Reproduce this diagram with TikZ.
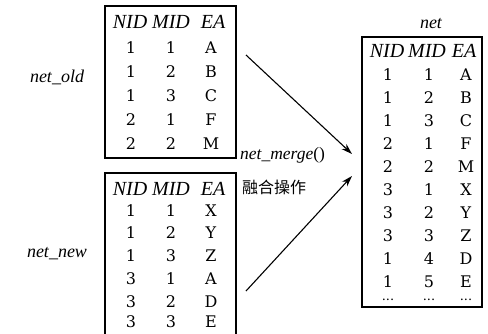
\documentclass[tikz,border=0pt]{standalone}
\usepackage{fontspec}
\setmainfont{Liberation Serif}
\newfontfamily\cellfont{DejaVu Serif}
\newfontfamily\cjk{Noto Sans CJK SC}
\usetikzlibrary{arrows.meta}
\begin{document}
\begin{tikzpicture}[x=1pt,y=-1pt,
  cell/.style={font=\cellfont\fontsize{16}{18}\selectfont, inner sep=0pt, anchor=center},
  dots/.style={font=\cellfont\fontsize{13}{14}\selectfont, inner sep=0pt, anchor=center},
  hd/.style={font=\fontsize{20}{22}\selectfont\itshape, inner sep=0pt, anchor=center},
  lbl/.style={font=\fontsize{18}{20}\selectfont\itshape, inner sep=0pt, anchor=center},
  frame/.style={line width=1.4pt},
  arr/.style={line width=1.1pt, -{Stealth[length=11pt,width=7pt]}}]
\useasboundingbox (0,0) rectangle (488,333);
% boxes
\draw[frame] (105,6) rectangle (236,158);
\draw[frame] (105,340) -- (105,173) -- (236,173) -- (236,340);
\draw[frame] (362,37) rectangle (482,307);
% labels
\node[lbl] (old) at (57,77) {net\_old};
\node[lbl] (new) at (57,254) {net\_new};
\node[lbl] (netlbl) at (431,24) {net};
\node[lbl, anchor=west, font=\fontsize{17.5}{20}\selectfont\itshape] (merge) at (240,155) {net\_merge\upshape()};
\node[font=\cjk\fontsize{16}{18}\selectfont, inner sep=0pt, anchor=west] (op) at (242,187) {融合操作};
% table 1
\foreach \h/\x in {NID/130,MID/171,EA/213} \node[hd] at (\x,22) {\h};
\foreach \a/\b/\c [count=\i] in {1/1/A,1/2/B,1/3/C,2/1/F,2/2/M}{
  \node[cell] at (131,24+24*\i) {\a};
  \node[cell] at (171,24+24*\i) {\b};
  \node[cell] at (211,24+24*\i) {\c};}
% table 2
\foreach \h/\x in {NID/130,MID/171,EA/213} \node[hd] at (\x,189) {\h};
\foreach \a/\b/\c/\y in {1/1/X/211,1/2/Y/233,1/3/Z/256,3/1/A/279,3/2/D/302,3/3/E/322}{
  \node[cell] at (131,\y) {\a};
  \node[cell] at (171,\y) {\b};
  \node[cell] at (211,\y) {\c};}
% table 3
\foreach \h/\x in {NID/387,MID/427,EA/464} \node[hd] at (\x,51) {\h};
\foreach \a/\b/\c [count=\i] in {1/1/A,1/2/B,1/3/C,2/1/F,2/2/M,3/1/X,3/2/Y,3/3/Z,1/4/D,1/5/E}{
  \node[cell] at (388,52+23*\i) {\a};
  \node[cell] at (429,52+23*\i) {\b};
  \node[cell] at (466,52+23*\i) {\c};}
\foreach \x in {388,429,466} \node[dots] at (\x,300) {...};
% arrows
\coordinate (s1) at (246,55);
\coordinate (t1) at (352,154);
\coordinate (s2) at (246,291);
\coordinate (t2) at (352,176);
\draw[arr] (s1) -- (t1);
\draw[arr] (s2) -- (t2);
\end{tikzpicture}
\end{document}
